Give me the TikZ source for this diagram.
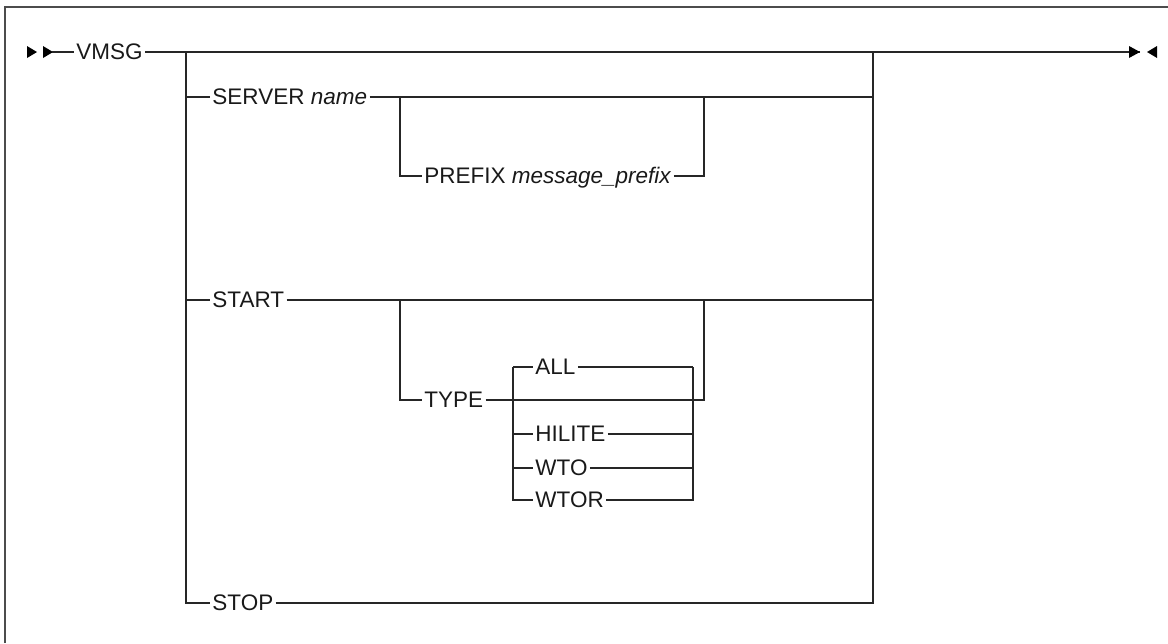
\documentclass[tikz,border=0pt]{standalone}
\usepackage{fontspec}
\setmainfont{Liberation Sans}
\usetikzlibrary{arrows.meta, positioning}
\tikzset{
  rail/.style={draw=black!85, line width=1pt},
  frame/.style={draw=black!70, line width=1.2pt},
  kw/.style={anchor=west, inner xsep=1.2pt, inner ysep=0pt,
             text height=9pt, text depth=0pt, text=black!90,
             font=\fontsize{12.8}{15}\selectfont},
  tip/.style={fill=black, draw=none},
}

\begin{document}
\begin{tikzpicture}[x=0.02cm, y=-0.02cm]
  \useasboundingbox (0,0) rectangle (1168,643);
  %% frame: only its top and left edges lie on the page
  \draw[frame] (5,643) -- (5,7) -- (1168,7);

  %% main line
  \coordinate (in)  at (52,52);
  \coordinate (bl)  at (186,52);
  \coordinate (br)  at (873,52);
  \coordinate (out) at (1140,52);
  \node[kw] (vmsg) at (74,52) {VMSG};
  \fill[tip] (27,46) -- (37,52) -- (27,58) -- cycle;
  \fill[tip] (43,46) -- (53,52) -- (43,58) -- cycle;
  \draw[rail] (in) -- (vmsg.west);
  \draw[rail] (vmsg.east) -- (out);
  \fill[tip] (1129,46) -- (out) -- (1129,58) -- cycle;
  \fill[tip] (1157,46) -- (1147,52) -- (1157,58) -- cycle;

  %% alternatives
  \node[kw] (server) at (210,97)  {SERVER \textit{name}};
  \node[kw] (start)  at (210,300) {START};
  \node[kw] (stop)   at (210,603) {STOP};
  \draw[rail] (bl) |- (stop.west);
  \draw[rail] (stop.east) -| (br);
  \foreach \n in {server,start} {
    \draw[rail] (bl |- \n.west) -- (\n.west);
    \draw[rail] (\n.east) -- (br |- \n.east);
  }

  %% SERVER: optional PREFIX
  \coordinate (pl) at (400,97);
  \coordinate (pr) at (704,97);
  \node[kw] (prefix) at (422,176) {PREFIX \textit{message\_prefix}};
  \draw[rail] (pl) |- (prefix.west);
  \draw[rail] (prefix.east) -| (pr);

  %% START: optional TYPE
  \coordinate (tl) at (400,300);
  \coordinate (tr) at (704,300);
  \node[kw] (type) at (422,400) {TYPE};
  \draw[rail] (tl) |- (type.west);
  \draw[rail] (type.east) -| (tr);

  %% TYPE values
  \coordinate (il) at (513,367);
  \coordinate (ir) at (693,367);
  \node[kw] (all)    at (533,367) {ALL};
  \node[kw] (hilite) at (533,434) {HILITE};
  \node[kw] (wto)    at (533,468) {WTO};
  \node[kw] (wtor)   at (533,500) {WTOR};
  \draw[rail] (il) -- (all.west);
  \draw[rail] (all.east) -- (ir);
  \draw[rail] (il) |- (wtor.west);
  \draw[rail] (wtor.east) -| (ir);
  \foreach \n in {hilite,wto} {
    \draw[rail] (il |- \n.west) -- (\n.west);
    \draw[rail] (\n.east) -- (ir |- \n.east);
  }
\end{tikzpicture}
\end{document}
